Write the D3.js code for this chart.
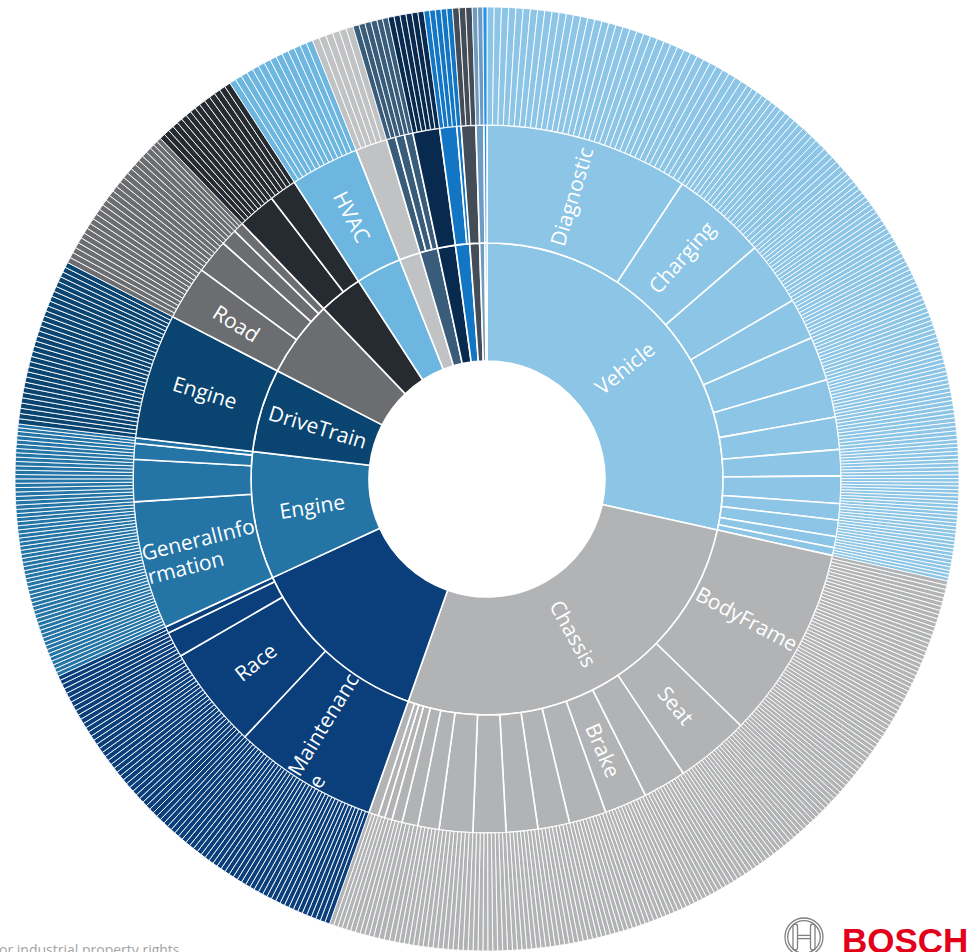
<!DOCTYPE html>
<html>
<head>
<meta charset="utf-8">
<script src="https://cdn.jsdelivr.net/npm/d3@7"></script>
<style>
  body { margin: 0; background: #fff; }
  svg { display: block; }
</style>
</head>
<body>
<svg id="sunburst_svg" width="969" height="952"></svg>
<script>
// inner ring: categories and their colours (blank names are not labelled in the picture)
const groupNames = ["Vehicle", "Chassis", "", "Engine", "DriveTrain", "", "", "", "", "", "", "", "", "", ""]
const groupColors = ["#8cc5e5", "#b2b3b5", "#0a3f7b", "#2474a6", "#0a4572", "#6b6d70", "#262b32",
                     "#6db6e0", "#c1c2c4", "#385c7a", "#072a4e", "#1276c4", "#434c57", "#6f9bc1", "#2792e6"]

// middle ring: sub categories of every group
const childNames = [
  ["Diagnostic", "Charging", "", "", "", "", "", "", "", "", "", "", ""],
  ["BodyFrame", "Seat", "", "Brake", "", "", "", "", "", "", "", "", "", "", ""],
  ["Maintenance", "Race", "", ""],
  ["GeneralInformation", "", "", ""],
  ["Engine"],
  ["Road", "", "", ""],
  ["", ""],
  ["HVAC"],
  [""],
  ["", "", ""],
  [""],
  ["", ""],
  [""],
  [""],
  [""]
]

// size of every sub category (share of the full circle, in degrees)
const childSizes = [
  [33.5, 15.7, 10.5, 6.8, 7.2, 6.2, 5.3, 4.3, 4.5, 2.7, 2.7, 1.8, 1.3],
  [31.7, 12.1, 7.1, 7.0, 6.1, 5.2, 5.2, 5.4, 5.5, 3.5, 2.6, 1.7, 1.2, 1.1, 1.6],
  [23.7, 16.8, 4.2, 1.1],
  [21.0, 6.9, 2.6, 0.9],
  [20.6],
  [8.9, 5.6, 2.7, 1.7],
  [6.3, 4.5],
  [11.3],
  [5.2],
  [1.5, 1.5, 1.4],
  [4.4],
  [2.8, 0.7],
  [2.4],
  [1.3],
  [0.5]
]

// outer ring: number of thin items under every sub category
const childStripes = [
  [38, 22, 18, 12, 13, 12, 10, 9, 10, 6, 6, 4, 3],
  [60, 23, 13, 13, 11, 9, 9, 9, 9, 6, 4, 3, 2, 2, 3],
  [40, 28, 7, 2],
  [42, 13, 5, 2],
  [32],
  [13, 8, 4, 3],
  [9, 6],
  [14],
  [6],
  [2, 2, 2],
  [6],
  [4, 1],
  [3],
  [2],
  [1]
]

//size and position of the chart
const width = 969
const height = 952
const center = {x: 487, y: 479}
const ringWidth = 118
const labelFont = '"Open Sans", "Noto Sans", sans-serif'

document.addEventListener('DOMContentLoaded', function () {
    drawSunburst()
    drawFooter()
})

function drawSunburst(){
    const svg = d3.select('#sunburst_svg')
    const g = svg.append('g').attr('transform', `translate(${center.x}, ${center.y})`)

    //build the tree group -> sub category -> outer items
    var tree = {name: 'root', children: groupNames.map(function(name, i){
        return {
            name: name,
            color: groupColors[i],
            children: childNames[i].map(function(cname, j){
                var n = childStripes[i][j]
                var items = d3.range(n).map(() => ({name: '', value: childSizes[i][j] / n}))
                return {name: cname, children: items}
            })
        }
    })}

    const root = d3.hierarchy(tree).sum(d => d.children ? 0 : d.value)
    // 4 levels (root + 3 rings), each level is one unit deep
    d3.partition().size([2 * Math.PI, 4])(root)

    const arc = d3.arc()
        .startAngle(d => d.x0)
        .endAngle(d => d.x1)
        .innerRadius(d => d.y0 * ringWidth)
        .outerRadius(d => d.y1 * ringWidth)

    //colour of a node is the colour of its top level group
    function groupColor(d){
        var n = d
        while(n.depth > 1) n = n.parent
        return n.data.color
    }

    g.append('g')
        .selectAll('path')
        .data(root.descendants().filter(d => d.depth > 0))
        .join('path')
        .attr('d', arc)
        .attr('fill', groupColor)
        .attr('stroke', '#fff')
        .attr('stroke-width', d => d.depth === 3 ? 0.9 : 1.6)
        .attr('stroke-linejoin', 'round')

    //labels on the two inner rings, rotated along the radius
    const labelled = root.descendants().filter(d => (d.depth === 1 || d.depth === 2) && d.data.name !== '')
    const maxWidth = 119
    const lineHeight = 24

    var labels = g.append('g')
        .attr('fill', '#fff')
        .style('font-family', labelFont)
        .style('font-size', '21px')
        .selectAll('text')
        .data(labelled)
        .join('text')
        .attr('transform', function(d){
            var a = (d.x0 + d.x1) / 2 * 180 / Math.PI
            var r = (d.y0 + d.y1) / 2 * ringWidth
            return `rotate(${a - 90}) translate(${r},0) rotate(${a < 180 ? 0 : 180})`
        })

    labels.each(function(d){
        var text = d3.select(this)
        //break the name into lines that fit in the ring
        var lines = []
        var cur = ''
        d.data.name.split('').forEach(function(ch){
            text.text(cur + ch)
            if(text.node().getComputedTextLength() > maxWidth && cur !== ''){
                lines.push(cur)
                cur = ch
            } else cur = cur + ch
        })
        lines.push(cur)
        var widths = lines.map(function(l){ text.text(l); return text.node().getComputedTextLength() })
        var blockWidth = d3.max(widths)
        text.text(null)
        lines.forEach(function(l, i){
            text.append('tspan')
                .attr('x', -blockWidth / 2)
                .attr('y', (i - (lines.length - 1) / 2) * lineHeight)
                .attr('dy', '0.35em')
                .text(l)
        })
    })
}

function drawFooter(){
    const svg = d3.select('#sunburst_svg')

    //cut off copyright line bottom left
    svg.append('text')
        .attr('x', -1)
        .attr('y', 955)
        .attr('fill', '#a3a3a3')
        .style('font-family', labelFont)
        .style('font-size', '14px')
        .text('or industrial property rights')

    //bosch armature logo
    const logo = svg.append('g').attr('transform', 'translate(804, 937)')
        .attr('fill', 'none').attr('stroke', '#808080').attr('stroke-width', 1.3)
    logo.append('circle').attr('r', 19)
    logo.append('circle').attr('r', 16.3)
    logo.append('rect').attr('x', -11).attr('y', -13).attr('width', 4.5).attr('height', 26).attr('rx', 2.2)
    logo.append('rect').attr('x', 6.5).attr('y', -13).attr('width', 4.5).attr('height', 26).attr('rx', 2.2)
    logo.append('line').attr('x1', -6.5).attr('x2', 6.5).attr('y1', -1.6).attr('y2', -1.6)
    logo.append('line').attr('x1', -6.5).attr('x2', 6.5).attr('y1', 1.6).attr('y2', 1.6)

    svg.append('text')
        .attr('x', 842)
        .attr('y', 953)
        .attr('fill', '#e2001a')
        .style('font-family', '"Liberation Sans", Arial, sans-serif')
        .style('font-weight', 'bold')
        .style('font-size', '35px')
        .text('BOSCH')
}
</script>
</body>
</html>
